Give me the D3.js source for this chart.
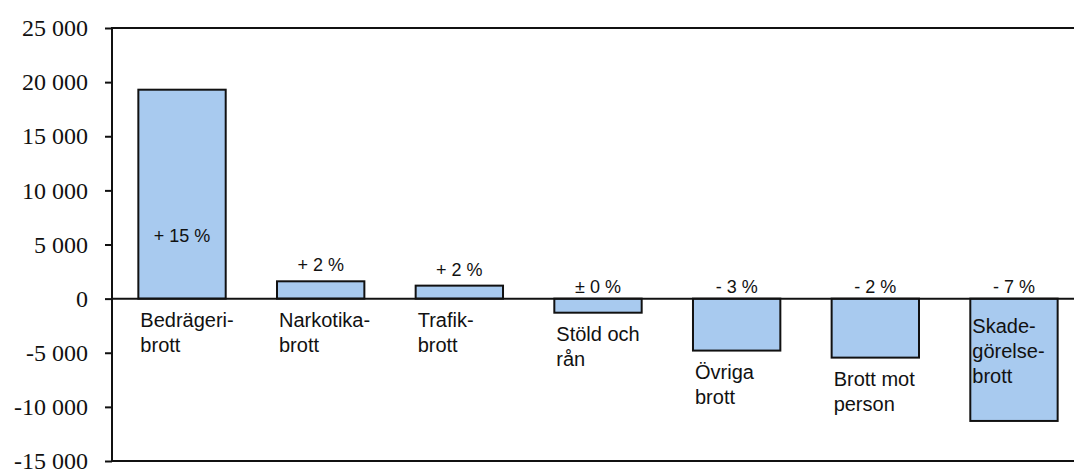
<!DOCTYPE html>
<html>
  <head>
    <meta charset="utf-8">
    <script src="https://d3js.org/d3.v7.min.js"></script>
    <style>
      body, html {
        margin: 0;
        background: white;
      }
      .cat-label {
        font-family: 'Liberation Sans', Arial, sans-serif;
        font-size: 20px;
        fill: #111;
      }
      .pct-label {
        font-family: 'Liberation Sans', Arial, sans-serif;
        font-size: 18px;
        fill: #111;
        text-anchor: middle;
      }
      rect.bar {
        fill: rgb(168,202,239);
        stroke: #111;
        stroke-width: 2px;
      }
      line.frame {
        stroke: #111;
        stroke-width: 2px;
      }
    </style>
  </head>
  <body>
    <div id="chart"></div>
    <script>
      var categories = ["Bedrägeri-brott", "Narkotika-brott", "Trafik-brott", "Stöld och rån",
                        "Övriga brott", "Brott mot person", "Skade-görelse-brott"];
      // label lines as they are wrapped in the picture
      var catLines = [["Bedrägeri-", "brott"], ["Narkotika-", "brott"], ["Trafik-", "brott"],
                      ["Stöld och", "rån"], ["Övriga", "brott"], ["Brott mot", "person"],
                      ["Skade-", "görelse-", "brott"]];
      var values = [19300, 1600, 1200, -1300, -4800, -5450, -11300];
      var changes = ["+ 15 %", "+ 2 %", "+ 2 %", "± 0 %", "- 3 %", "- 2 %", "- 7 %"];
      var yTicks = [-15000, -10000, -5000, 0, 5000, 10000, 15000, 20000, 25000];

      var width = 1074, height = 473;
      var plotLeft = 112, plotRight = 1084, plotTop = 28, plotBottom = 461;

      var svg = d3.select("#chart")
        .append("svg")
        .attr("width", width)
        .attr("height", height);

      var x = d3.scaleBand()
        .domain(categories)
        .range([plotLeft, plotRight])
        .paddingInner(0.37)
        .paddingOuter(0.19);

      var y = d3.scaleLinear()
        .domain([-15000, 25000])
        .range([plotBottom, plotTop]);

      var fmt = d3.formatLocale({decimal: ",", thousands: " ", grouping: [3], currency: ["", " kr"], minus: "-"}).format(",d");

      // left axis with ticks
      var axis = svg.append("g")
        .attr("transform", "translate(" + plotLeft + ",0)")
        .call(d3.axisLeft(y).tickValues(yTicks).tickFormat(fmt).tickSize(7).tickPadding(17));
      axis.attr("font-size", 24).attr("font-family", "'Liberation Serif', 'Times New Roman', serif");
      axis.select(".domain").remove();
      axis.selectAll(".tick line").attr("stroke", "#111").attr("stroke-width", 2);
      axis.selectAll(".tick text").attr("fill", "#111");

      svg.append("g").selectAll("rect")
        .data(values)
        .enter()
        .append("rect")
          .attr("class", "bar")
          .attr("x", (d, i) => x(categories[i]))
          .attr("width", x.bandwidth())
          .attr("y", d => y(Math.max(0, d)))
          .attr("height", d => Math.abs(y(d) - y(0)));

      // frame and zero line
      svg.append("line").attr("class", "frame")
        .attr("x1", plotLeft).attr("x2", width).attr("y1", y(25000)).attr("y2", y(25000));
      svg.append("line").attr("class", "frame")
        .attr("x1", plotLeft).attr("x2", width).attr("y1", y(-15000)).attr("y2", y(-15000));
      svg.append("line").attr("class", "frame")
        .attr("x1", plotLeft).attr("x2", plotLeft).attr("y1", y(25000) - 1).attr("y2", y(-15000) + 1);
      svg.append("line").attr("class", "frame")
        .attr("x1", plotLeft).attr("x2", width).attr("y1", y(0)).attr("y2", y(0));

      // percentage change labels
      svg.append("g").selectAll("text")
        .data(values)
        .enter()
        .append("text")
          .attr("class", "pct-label")
          .attr("x", (d, i) => x(categories[i]) + x.bandwidth() / 2)
          .attr("y", d => {
            if (d > 10000) return y(d * 0.27);
            if (d > 0) return y(d) - 10;
            return y(0) - 6;
          })
          .text((d, i) => changes[i]);

      // category labels
      var cats = svg.append("g").selectAll("text")
        .data(values)
        .enter()
        .append("text")
          .attr("class", "cat-label")
          .attr("x", (d, i) => x(categories[i]) + 2)
          .attr("y", d => {
            if (d < -8000) return y(0) + 34;
            return Math.max(y(0), y(d)) + 28;
          });
      cats.each(function(d, i) {
        var t = d3.select(this);
        catLines[i].forEach((s, j) => {
          t.append("tspan")
            .attr("x", t.attr("x"))
            .attr("dy", j === 0 ? 0 : 25)
            .text(s);
        });
      });
    </script>
  </body>
</html>
